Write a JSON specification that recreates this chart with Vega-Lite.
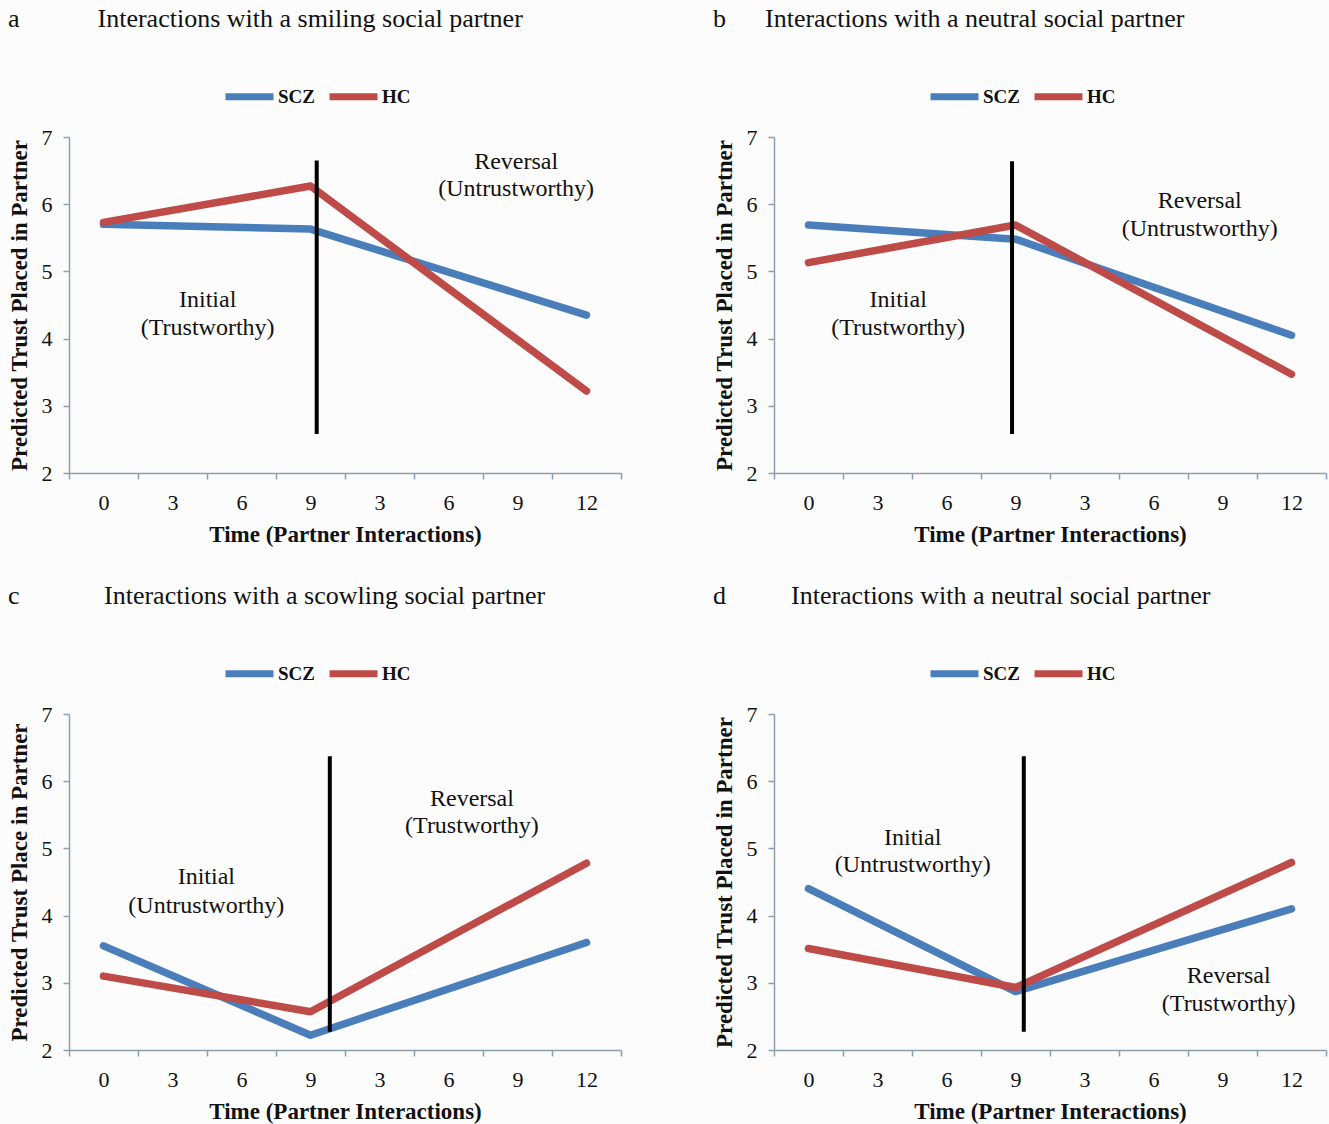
{
  "$schema": "https://vega.github.io/schema/vega-lite/v6.json",
  "background": "#fcfcfd",
  "padding": {"left": 8, "top": 6, "right": 5, "bottom": 5},
  "datasets": {
    "lines": [
      {"panel": "a", "group": "SCZ", "pos": 0.5, "trust": 5.70},
      {"panel": "a", "group": "SCZ", "pos": 3.5, "trust": 5.63},
      {"panel": "a", "group": "SCZ", "pos": 7.5, "trust": 4.35},
      {"panel": "a", "group": "HC", "pos": 0.5, "trust": 5.73},
      {"panel": "a", "group": "HC", "pos": 3.5, "trust": 6.27},
      {"panel": "a", "group": "HC", "pos": 7.5, "trust": 3.22},
      {"panel": "b", "group": "SCZ", "pos": 0.5, "trust": 5.69},
      {"panel": "b", "group": "SCZ", "pos": 3.5, "trust": 5.48},
      {"panel": "b", "group": "SCZ", "pos": 7.5, "trust": 4.05},
      {"panel": "b", "group": "HC", "pos": 0.5, "trust": 5.13},
      {"panel": "b", "group": "HC", "pos": 3.5, "trust": 5.69},
      {"panel": "b", "group": "HC", "pos": 7.5, "trust": 3.47},
      {"panel": "c", "group": "SCZ", "pos": 0.5, "trust": 3.55},
      {"panel": "c", "group": "SCZ", "pos": 3.5, "trust": 2.22},
      {"panel": "c", "group": "SCZ", "pos": 7.5, "trust": 3.60},
      {"panel": "c", "group": "HC", "pos": 0.5, "trust": 3.10},
      {"panel": "c", "group": "HC", "pos": 3.5, "trust": 2.57},
      {"panel": "c", "group": "HC", "pos": 7.5, "trust": 4.78},
      {"panel": "d", "group": "SCZ", "pos": 0.5, "trust": 4.40},
      {"panel": "d", "group": "SCZ", "pos": 3.5, "trust": 2.87},
      {"panel": "d", "group": "SCZ", "pos": 7.5, "trust": 4.10},
      {"panel": "d", "group": "HC", "pos": 0.5, "trust": 3.51},
      {"panel": "d", "group": "HC", "pos": 3.5, "trust": 2.93},
      {"panel": "d", "group": "HC", "pos": 7.5, "trust": 4.79}
    ],
    "rules": [
      {"panel": "a", "pos": 3.59, "top": 6.65, "bottom": 2.58},
      {"panel": "b", "pos": 3.45, "top": 6.64, "bottom": 2.58},
      {"panel": "c", "pos": 3.78, "top": 6.37, "bottom": 2.27},
      {"panel": "d", "pos": 3.62, "top": 6.37, "bottom": 2.27}
    ],
    "notes": [
      {"panel": "a", "pos": 2.01, "trust": 4.57, "label": "Initial"},
      {"panel": "a", "pos": 2.01, "trust": 4.16, "label": "(Trustworthy)"},
      {"panel": "a", "pos": 6.48, "trust": 6.63, "label": "Reversal"},
      {"panel": "a", "pos": 6.48, "trust": 6.23, "label": "(Untrustworthy)"},
      {"panel": "b", "pos": 1.80, "trust": 4.57, "label": "Initial"},
      {"panel": "b", "pos": 1.80, "trust": 4.16, "label": "(Trustworthy)"},
      {"panel": "b", "pos": 6.17, "trust": 6.05, "label": "Reversal"},
      {"panel": "b", "pos": 6.17, "trust": 5.63, "label": "(Untrustworthy)"},
      {"panel": "c", "pos": 1.99, "trust": 4.57, "label": "Initial"},
      {"panel": "c", "pos": 1.99, "trust": 4.15, "label": "(Untrustworthy)"},
      {"panel": "c", "pos": 5.84, "trust": 5.73, "label": "Reversal"},
      {"panel": "c", "pos": 5.84, "trust": 5.33, "label": "(Trustworthy)"},
      {"panel": "d", "pos": 2.01, "trust": 5.16, "label": "Initial"},
      {"panel": "d", "pos": 2.01, "trust": 4.75, "label": "(Untrustworthy)"},
      {"panel": "d", "pos": 6.59, "trust": 3.10, "label": "Reversal"},
      {"panel": "d", "pos": 6.59, "trust": 2.69, "label": "(Trustworthy)"}
    ]
  },
  "columns": 2,
  "spacing": {"column": 57, "row": 37},
  "resolve": {"scale": {"color": "independent"}, "legend": {"color": "independent"}},
  "concat": [
    {
      "width": 552, "height": 336,
      "title": {"text": "a\u00a0\u00a0\u00a0\u00a0\u00a0\u00a0\u00a0\u00a0\u00a0\u00a0\u00a0\u00a0Interactions with a smiling social partner"},
      "layer": [
        {"data": {"name": "lines"}, "transform": [{"filter": "datum.panel === 'a'"}],
         "mark": {"type": "line", "strokeWidth": 7.5, "strokeCap": "round", "strokeJoin": "round"},
         "encoding": {
           "x": {"field": "pos", "type": "quantitative", "title": "Time (Partner Interactions)", "scale": {"domain": [0, 8], "nice": false, "zero": false}, "axis": {"values": [0, 1, 2, 3, 4, 5, 6, 7, 8]}},
           "y": {"field": "trust", "type": "quantitative", "title": "Predicted Trust Placed in Partner", "scale": {"domain": [2, 7], "nice": false, "zero": false}, "axis": {"values": [2, 3, 4, 5, 6, 7], "format": "d"}},
           "color": {"field": "group", "type": "nominal", "scale": {"domain": ["SCZ", "HC"], "range": ["#4A7EBB", "#BE4B48"]}}
         }},
        {"data": {"name": "rules"}, "transform": [{"filter": "datum.panel === 'a'"}],
         "mark": {"type": "rule", "strokeWidth": 4, "color": "black"},
         "encoding": {"x": {"field": "pos", "type": "quantitative"}, "y": {"field": "top", "type": "quantitative"}, "y2": {"field": "bottom"}}},
        {"data": {"name": "notes"}, "transform": [{"filter": "datum.panel === 'a'"}],
         "mark": {"type": "text", "font": "Liberation Serif", "fontSize": 24, "color": "#111"},
         "encoding": {"x": {"field": "pos", "type": "quantitative"}, "y": {"field": "trust", "type": "quantitative"}, "text": {"field": "label"}}}
      ]
    },
    {
      "width": 552, "height": 336,
      "title": {"text": "b\u00a0\u00a0\u00a0\u00a0\u00a0\u00a0Interactions with a neutral social partner"},
      "layer": [
        {"data": {"name": "lines"}, "transform": [{"filter": "datum.panel === 'b'"}],
         "mark": {"type": "line", "strokeWidth": 7.5, "strokeCap": "round", "strokeJoin": "round"},
         "encoding": {
           "x": {"field": "pos", "type": "quantitative", "title": "Time (Partner Interactions)", "scale": {"domain": [0, 8], "nice": false, "zero": false}, "axis": {"values": [0, 1, 2, 3, 4, 5, 6, 7, 8]}},
           "y": {"field": "trust", "type": "quantitative", "title": "Predicted Trust Placed in Partner", "scale": {"domain": [2, 7], "nice": false, "zero": false}, "axis": {"values": [2, 3, 4, 5, 6, 7], "format": "d"}},
           "color": {"field": "group", "type": "nominal", "scale": {"domain": ["SCZ", "HC"], "range": ["#4A7EBB", "#BE4B48"]}}
         }},
        {"data": {"name": "rules"}, "transform": [{"filter": "datum.panel === 'b'"}],
         "mark": {"type": "rule", "strokeWidth": 4, "color": "black"},
         "encoding": {"x": {"field": "pos", "type": "quantitative"}, "y": {"field": "top", "type": "quantitative"}, "y2": {"field": "bottom"}}},
        {"data": {"name": "notes"}, "transform": [{"filter": "datum.panel === 'b'"}],
         "mark": {"type": "text", "font": "Liberation Serif", "fontSize": 24, "color": "#111"},
         "encoding": {"x": {"field": "pos", "type": "quantitative"}, "y": {"field": "trust", "type": "quantitative"}, "text": {"field": "label"}}}
      ]
    },
    {
      "width": 552, "height": 336,
      "title": {"text": "c\u00a0\u00a0\u00a0\u00a0\u00a0\u00a0\u00a0\u00a0\u00a0\u00a0\u00a0\u00a0\u00a0Interactions with a scowling social partner"},
      "layer": [
        {"data": {"name": "lines"}, "transform": [{"filter": "datum.panel === 'c'"}],
         "mark": {"type": "line", "strokeWidth": 7.5, "strokeCap": "round", "strokeJoin": "round"},
         "encoding": {
           "x": {"field": "pos", "type": "quantitative", "title": "Time (Partner Interactions)", "scale": {"domain": [0, 8], "nice": false, "zero": false}, "axis": {"values": [0, 1, 2, 3, 4, 5, 6, 7, 8]}},
           "y": {"field": "trust", "type": "quantitative", "title": "Predicted Trust Place in Partner", "scale": {"domain": [2, 7], "nice": false, "zero": false}, "axis": {"values": [2, 3, 4, 5, 6, 7], "format": "d"}},
           "color": {"field": "group", "type": "nominal", "scale": {"domain": ["SCZ", "HC"], "range": ["#4A7EBB", "#BE4B48"]}}
         }},
        {"data": {"name": "rules"}, "transform": [{"filter": "datum.panel === 'c'"}],
         "mark": {"type": "rule", "strokeWidth": 4, "color": "black"},
         "encoding": {"x": {"field": "pos", "type": "quantitative"}, "y": {"field": "top", "type": "quantitative"}, "y2": {"field": "bottom"}}},
        {"data": {"name": "notes"}, "transform": [{"filter": "datum.panel === 'c'"}],
         "mark": {"type": "text", "font": "Liberation Serif", "fontSize": 24, "color": "#111"},
         "encoding": {"x": {"field": "pos", "type": "quantitative"}, "y": {"field": "trust", "type": "quantitative"}, "text": {"field": "label"}}}
      ]
    },
    {
      "width": 552, "height": 336,
      "title": {"text": "d\u00a0\u00a0\u00a0\u00a0\u00a0\u00a0\u00a0\u00a0\u00a0\u00a0Interactions with a neutral social partner"},
      "layer": [
        {"data": {"name": "lines"}, "transform": [{"filter": "datum.panel === 'd'"}],
         "mark": {"type": "line", "strokeWidth": 7.5, "strokeCap": "round", "strokeJoin": "round"},
         "encoding": {
           "x": {"field": "pos", "type": "quantitative", "title": "Time (Partner Interactions)", "scale": {"domain": [0, 8], "nice": false, "zero": false}, "axis": {"values": [0, 1, 2, 3, 4, 5, 6, 7, 8]}},
           "y": {"field": "trust", "type": "quantitative", "title": "Predicted Trust Placed in Partner", "scale": {"domain": [2, 7], "nice": false, "zero": false}, "axis": {"values": [2, 3, 4, 5, 6, 7], "format": "d"}},
           "color": {"field": "group", "type": "nominal", "scale": {"domain": ["SCZ", "HC"], "range": ["#4A7EBB", "#BE4B48"]}}
         }},
        {"data": {"name": "rules"}, "transform": [{"filter": "datum.panel === 'd'"}],
         "mark": {"type": "rule", "strokeWidth": 4, "color": "black"},
         "encoding": {"x": {"field": "pos", "type": "quantitative"}, "y": {"field": "top", "type": "quantitative"}, "y2": {"field": "bottom"}}},
        {"data": {"name": "notes"}, "transform": [{"filter": "datum.panel === 'd'"}],
         "mark": {"type": "text", "font": "Liberation Serif", "fontSize": 24, "color": "#111"},
         "encoding": {"x": {"field": "pos", "type": "quantitative"}, "y": {"field": "trust", "type": "quantitative"}, "text": {"field": "label"}}}
      ]
    }
  ],
  "config": {
    "view": {"stroke": null},
    "font": "Liberation Serif",
    "title": {"font": "Liberation Serif", "fontSize": 26, "fontWeight": "normal", "color": "#111", "anchor": "start", "frame": "bounds", "offset": 37},
    "axisX": {
      "labelExpr": "datum.value < 8 ? ['0','3','6','9','3','6','9','12'][datum.value] : ''",
      "labelOffset": 34.5,
      "labelFlush": false,
      "labelOverlap": false,
      "tickSize": 6,
      "labelPadding": 13,
      "titlePadding": 10
    },
    "axisY": {
      "tickSize": 6,
      "labelPadding": 11,
      "titlePadding": 10
    },
    "axis": {
      "grid": false,
      "domainColor": "#8e9fb0",
      "tickColor": "#8e9fb0",
      "domainWidth": 1.5,
      "tickWidth": 1.5,
      "labelFont": "Liberation Serif",
      "labelFontSize": 22,
      "labelColor": "#111",
      "titleFont": "Liberation Serif",
      "titleFontSize": 23,
      "titleFontWeight": "bold",
      "titleColor": "#111"
    },
    "legend": {
      "orient": "none",
      "direction": "horizontal",
      "legendX": 153,
      "legendY": -68,
      "title": null,
      "symbolType": "stroke",
      "symbolSize": 2300,
      "symbolStrokeWidth": 7,
      "labelFont": "Liberation Serif",
      "labelFontSize": 19,
      "labelFontWeight": "bold",
      "labelColor": "#111",
      "labelOffset": 1,
      "columnPadding": 0
    }
  }
}
